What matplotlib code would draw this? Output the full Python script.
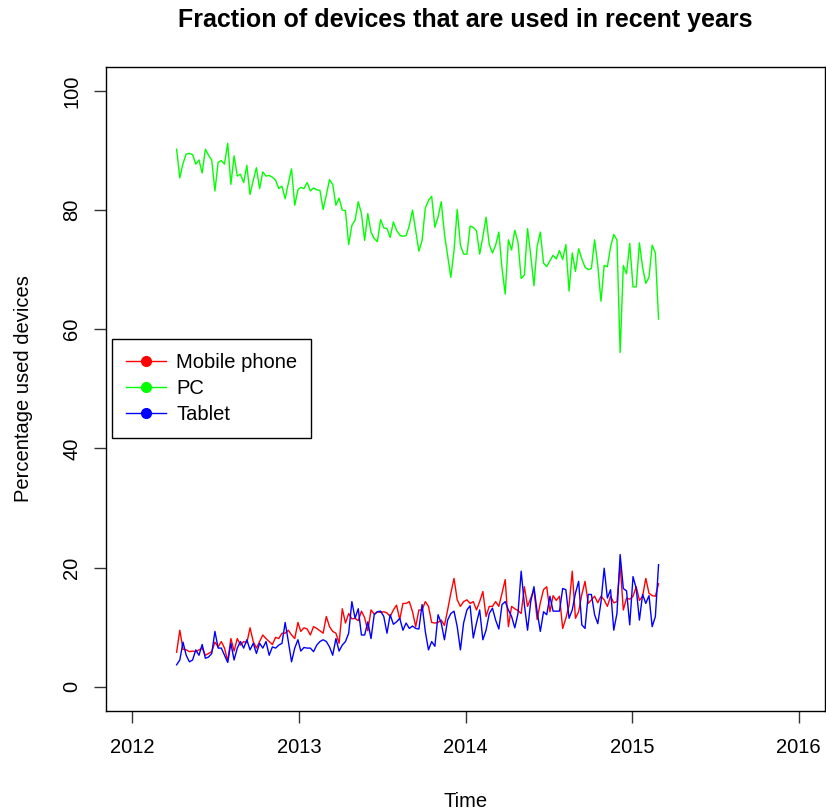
import numpy as np
import pandas as pd
import matplotlib
matplotlib.use("Agg")
import matplotlib.pyplot as plt

plt.rcParams["font.family"] = ["Liberation Sans", "DejaVu Sans"]

# weekly share (%) of visits per device type
start_date = "2012-04-07"

pc = [
    90.2, 85.4, 87.8, 89.4, 89.5, 89.3, 87.7, 88.4, 86.2, 90.2, 89.2, 88.4, 83.2,
    88.0, 88.3, 87.7, 91.2, 84.3, 89.1, 85.7, 86.0, 84.6, 87.5, 82.6, 85.0, 87.1,
    83.6, 86.4, 85.7, 85.8, 85.5, 85.0, 83.6, 84.0, 81.9, 84.5, 86.9,
    80.8, 83.4, 83.8, 83.6, 84.6, 83.2, 83.7, 83.4, 83.3, 80.1, 82.5, 85.1, 84.3,
    80.8, 82.0, 80.0, 79.9, 74.2, 77.4, 78.3, 81.4, 79.4, 74.9, 79.4, 76.3, 75.2,
    74.7, 78.4, 77.0, 76.9, 75.4, 78.0, 76.6, 75.8, 75.6, 75.7, 77.4, 80.0,
    76.6, 73.1, 74.9, 80.3, 81.6, 82.3, 77.1, 78.8, 81.4, 76.0, 72.4, 68.7, 73.2,
    80.1, 74.1, 72.6, 72.6, 77.3, 77.1, 76.5, 72.6, 75.5, 78.8, 74.2, 72.8, 74.1,
    76.3, 70.2, 65.9, 75.0, 73.3, 76.6, 74.6, 68.5, 69.1, 76.9, 72.4, 67.3,
    73.9, 76.3, 71.1, 70.5, 71.5, 72.4, 71.8, 73.2, 71.7, 74.2, 66.4, 72.8, 69.7,
    73.5, 71.8, 70.4, 70.0, 70.2, 75.0, 70.7, 64.7, 70.7, 70.5, 73.8, 75.9, 75.0,
    56.1, 70.7, 69.3, 74.4, 67.1, 67.1, 74.5, 70.4, 67.7, 68.7, 74.1, 72.8, 61.7,
]

mobile = [
    5.8, 9.5, 6.3, 6.2, 5.9, 6.0, 5.9, 6.2, 6.5, 5.3, 5.6, 5.9, 7.5, 6.7, 7.6,
    6.5, 4.3, 8.1, 6.0, 8.1, 7.0, 7.6, 7.4, 9.9, 7.6, 6.5, 7.6, 8.7, 8.1, 7.6,
    7.1, 8.3, 8.1, 9.0, 9.0, 9.5, 8.7, 8.1, 10.8,
    9.3, 9.9, 9.7, 8.7, 10.1, 9.8, 9.4, 9.0, 11.8, 10.1, 9.3, 9.0, 7.3, 13.1,
    10.7, 12.3, 11.4, 11.5, 11.1, 12.7, 11.6, 9.4, 12.9, 12.2, 12.6, 12.5, 12.6,
    12.4, 11.8, 12.9, 13.7, 11.3, 14.0, 14.0, 14.3, 12.6, 10.1,
    12.9, 12.9, 14.3, 13.5, 10.8, 10.7, 10.8, 11.2, 10.3, 12.9, 15.7, 18.2, 14.6,
    13.5, 14.3, 14.6, 14.0, 14.3, 12.9, 14.3, 16.0, 11.8, 13.5, 13.5, 14.3, 13.5,
    15.7, 18.0, 10.1, 13.5, 13.1, 12.8, 12.3, 16.8, 13.5, 14.9, 16.3,
    11.3, 14.1, 16.3, 16.8, 12.6, 15.3, 14.5, 15.2, 9.8, 11.5, 13.7, 19.4, 11.5,
    12.6, 15.5, 17.7, 14.0, 14.6, 15.2, 14.1, 15.2, 14.6, 13.5, 15.2, 14.1, 14.3,
    20.5, 12.9, 14.9, 14.7, 15.2, 16.8, 14.5, 15.2, 18.2, 15.7, 15.3, 15.2, 17.3,
]

tablet = [
    3.7, 4.5, 7.5, 5.3, 4.2, 4.5, 6.2, 5.3, 7.1, 4.8, 5.0, 5.6, 9.3, 6.5, 6.5,
    5.3, 4.1, 7.3, 4.5, 6.5, 7.6, 6.5, 7.9, 6.2, 7.3, 5.6, 7.3, 6.5, 7.6, 5.3,
    6.7, 6.5, 7.0, 7.3, 10.8, 7.6, 4.2, 6.5,
    7.9, 6.0, 6.6, 6.5, 6.5, 5.9, 7.0, 7.6, 7.9, 7.6, 6.7, 5.3, 8.1, 6.0, 7.0,
    7.6, 9.0, 14.3, 11.5, 13.1, 8.7, 8.7, 10.9, 8.1, 12.1, 12.6, 12.7, 11.8, 9.0,
    12.1, 10.5, 10.9, 11.5, 9.5, 10.7, 9.8, 10.2, 9.8,
    9.7, 13.8, 9.3, 6.2, 7.6, 6.8, 12.1, 10.7, 7.9, 11.2, 12.3, 12.7, 10.1, 6.2,
    10.7, 12.9, 13.6, 8.2, 10.7, 12.9, 7.9, 9.5, 12.3, 13.2, 11.2, 9.7, 13.8,
    14.3, 12.9, 11.8, 9.9, 12.3, 19.4, 13.8, 9.5, 14.3, 16.8, 12.6, 9.3,
    12.6, 12.1, 15.2, 12.7, 12.7, 12.7, 16.5, 16.3, 11.5, 12.9, 15.7, 17.7, 10.4,
    9.8, 15.5, 15.5, 12.1, 10.6, 14.2, 19.9, 14.9, 16.3, 9.5, 12.3, 22.2, 16.5,
    16.1, 10.4, 18.5, 16.5, 11.2, 15.5, 14.0, 15.3, 10.1, 11.8, 20.5,
]

labels = ["Mobile phone", "PC", "Tablet"]
colors = ["#ff0000", "#00ff00", "#0000ff"]
year_ticks = [2012, 2013, 2014, 2015, 2016]
pct_ticks = [0, 20, 40, 60, 80, 100]

dates = pd.date_range(start_date, periods=len(pc), freq="7D")
t = dates.year + (dates.dayofyear - 1) / 365.25

fig = plt.figure(figsize=(8.26, 8.11), dpi=100)
ax = fig.add_axes([0.128, 0.1237, 0.8712, 0.7937])

for series, lab, col in zip([mobile, pc, tablet], labels, colors):
    ax.plot(t, series, color=col, lw=1.0)

ax.set_xlim(2011.84, 2016.16)
ax.set_ylim(-4, 104)
ax.set_xticks(year_ticks)
ax.set_yticks(pct_ticks)
ax.tick_params(direction="out", length=8.6, width=1.0, labelsize=14.5, color="#333333")
ax.tick_params(axis="x", pad=11)
ax.tick_params(axis="y", pad=9)
plt.setp(ax.get_yticklabels(), rotation=90, va="center")
for sp in ax.spines.values():
    sp.set_linewidth(1.0)

ax.set_title("Fraction of devices that are used in recent years",
             fontsize=18, fontweight="bold", pad=29)
ax.set_xlabel("Time", fontsize=14.5, labelpad=25)
ax.set_ylabel("Percentage used devices", fontsize=14.5, labelpad=21)

handles = [plt.Line2D([], [], color=c, lw=1.0, marker="o", markersize=7)
           for c in colors]
ax.legend(handles, labels, loc="center left", fontsize=14.5, frameon=True,
          fancybox=False, edgecolor="black", framealpha=1, borderpad=0.7,
          labelspacing=0.35, handlelength=2.0, handletextpad=0.5,
          borderaxespad=0.3).get_frame().set_linewidth(1.0)

fig.savefig("out.png", dpi=100)
